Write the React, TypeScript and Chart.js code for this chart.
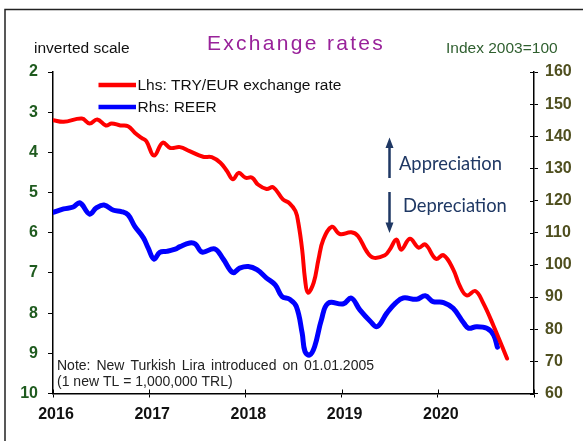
import React, { useEffect, useRef } from 'react';
import { Chart, registerables } from 'chart.js';

Chart.register(...registerables);

// ---- data (x = date in decimal years) ----
const yearTicks = [2016, 2017, 2018, 2019, 2020, 2021];
const seriesLabels = ['Lhs: TRY/EUR exchange rate', 'Rhs: REER'];
const titleText = 'Exchange rates';
const leftNote = 'inverted scale';
const rightNote = 'Index 2003=100';
const noteLines = ['Note: New Turkish Lira introduced on 01.01.2005', '(1 new TL = 1,000,000 TRL)'];
const annotationLabels = ['Appreciation', 'Depreciation'];

const tryEurDates = [
  2016.0, 2016.11, 2016.3, 2016.38, 2016.46, 2016.55, 2016.61, 2016.7, 2016.78, 2016.85,
  2016.92, 2016.97, 2017.05, 2017.14, 2017.22, 2017.32, 2017.42, 2017.56, 2017.65, 2017.74,
  2017.81, 2017.87, 2017.93, 2018.0, 2018.07, 2018.13, 2018.22, 2018.29, 2018.39, 2018.46,
  2018.52, 2018.55, 2018.59, 2018.62, 2018.65, 2018.71, 2018.76, 2018.81, 2018.9, 2018.98,
  2019.1, 2019.17, 2019.26, 2019.33, 2019.45, 2019.5, 2019.57, 2019.62, 2019.71, 2019.8,
  2019.87, 2019.98, 2020.06, 2020.16, 2020.23, 2020.3, 2020.39, 2020.47, 2020.58, 2020.72,
];
const tryEurValues = [
  3.2, 3.24, 3.16, 3.28, 3.18, 3.33, 3.28, 3.33, 3.35, 3.51,
  3.64, 3.72, 4.08, 3.76, 3.89, 3.87, 3.97, 4.11, 4.12, 4.26,
  4.47, 4.67, 4.51, 4.63, 4.63, 4.8, 4.91, 4.87, 5.17, 5.27,
  5.46, 5.75, 6.42, 7.16, 7.49, 7.24, 6.66, 6.17, 5.85, 6.03,
  5.99, 6.08, 6.46, 6.62, 6.56, 6.42, 6.17, 6.42, 6.15, 6.37,
  6.29, 6.65, 6.56, 6.91, 7.33, 7.56, 7.45, 7.74, 8.32, 9.13,
];

const reerDates = [
  2016.0, 2016.11, 2016.21, 2016.28, 2016.38, 2016.45, 2016.53, 2016.63, 2016.71, 2016.78,
  2016.85, 2016.94, 2016.99, 2017.05, 2017.11, 2017.18, 2017.27, 2017.32, 2017.42, 2017.48,
  2017.55, 2017.68, 2017.77, 2017.87, 2017.94, 2018.03, 2018.12, 2018.22, 2018.31, 2018.38,
  2018.46, 2018.53, 2018.59, 2018.62, 2018.67, 2018.72, 2018.79, 2018.86, 2019.02, 2019.1,
  2019.19, 2019.3, 2019.37, 2019.47, 2019.56, 2019.64, 2019.78, 2019.87, 2019.95, 2020.06,
  2020.16, 2020.27, 2020.32, 2020.4, 2020.51, 2020.58, 2020.62,
];
const reerValues = [
  116.3, 117.4, 118.0, 119.3, 115.8, 117.7, 118.6, 117.0, 116.6, 115.6,
  112.0, 108.4, 105.2, 101.8, 103.9, 104.2, 104.9, 105.7, 106.8, 106.5,
  104.0, 105.0, 101.8, 97.6, 99.0, 99.5, 98.5, 95.9, 93.8, 90.2,
  89.3, 87.0, 78.8, 73.0, 72.0, 74.6, 82.9, 88.1, 87.9, 89.7,
  86.0, 82.4, 80.8, 85.0, 88.1, 89.7, 89.3, 90.4, 88.6, 88.3,
  86.5, 81.9, 80.3, 80.8, 80.3, 78.2, 74.4,
];

const RED = '#ff0000';
const BLUE = '#0000ff';
const FONT = "'Liberation Sans', Arial, sans-serif";
const NAVY = '#1f3864';

export default function App() {
  const ref = useRef<HTMLCanvasElement>(null);

  useEffect(() => {
    const canvas = ref.current!;

    const overlay = {
      id: 'overlay',
      afterDraw(chart: any) {
        const c: CanvasRenderingContext2D = chart.ctx;
        const area = chart.chartArea;
        const xs = chart.scales.x;
        const yr = chart.scales.y1;
        c.save();

        // inner halves of crossing ticks (right axis and x axis)
        c.strokeStyle = '#000';
        c.lineWidth = 1;
        c.beginPath();
        yr.ticks.forEach((t: any) => {
          const py = Math.round(yr.getPixelForValue(t.value)) + 0.5;
          c.moveTo(area.right - 4, py);
          c.lineTo(area.right, py);
        });
        xs.ticks.forEach((t: any) => {
          const px = Math.round(xs.getPixelForValue(t.value)) + 0.5;
          c.moveTo(px, area.bottom - 4);
          c.lineTo(px, area.bottom);
        });
        c.stroke();

        // outer frame
        c.strokeStyle = '#222';
        c.lineWidth = 1.5;
        c.strokeRect(5, 9.5, 900, 900);

        // title
        c.fillStyle = '#99229a';
        c.font = `21px ${FONT}`;
        (c as any).letterSpacing = '2.3px';
        c.textAlign = 'center';
        c.textBaseline = 'alphabetic';
        c.fillText(titleText, 296, 50);
        (c as any).letterSpacing = '0px';

        // side notes
        c.textAlign = 'left';
        c.fillStyle = '#111';
        c.font = `15.5px ${FONT}`;
        c.fillText(leftNote, 34, 52.5);
        c.fillStyle = '#2f5f2f';
        c.font = `15.5px ${FONT}`;
        c.fillText(rightNote, 446, 53);

        // legend
        const legendColors = [RED, BLUE];
        const legendY = [85, 107];
        legendColors.forEach((col, i) => {
          c.strokeStyle = col;
          c.lineWidth = 4.5;
          c.lineCap = 'butt';
          c.beginPath();
          c.moveTo(98.5, legendY[i]);
          c.lineTo(136, legendY[i]);
          c.stroke();
          c.fillStyle = '#111';
          c.font = `15.5px ${FONT}`;
          c.textBaseline = 'middle';
          c.fillText(seriesLabels[i], 137.5, legendY[i] + 0.5);
        });

        // appreciation / depreciation arrows
        c.strokeStyle = NAVY;
        c.fillStyle = NAVY;
        c.lineWidth = 2.5;
        const ax = 389.5;
        c.beginPath();
        c.moveTo(ax, 178);
        c.lineTo(ax, 146);
        c.moveTo(ax, 192);
        c.lineTo(ax, 224);
        c.stroke();
        c.beginPath();
        c.moveTo(ax, 137.5);
        c.lineTo(ax - 4, 148);
        c.lineTo(ax + 4, 148);
        c.closePath();
        c.moveTo(ax, 233);
        c.lineTo(ax - 4, 222.5);
        c.lineTo(ax + 4, 222.5);
        c.closePath();
        c.fill();

        c.font = `17px Lato, 'Noto Sans', sans-serif`;
        const w0 = c.measureText(annotationLabels[0]).width;
        const fs = (17 * 103) / w0;
        c.font = `${fs}px Lato, 'Noto Sans', sans-serif`;
        c.textBaseline = 'alphabetic';
        c.fillText(annotationLabels[0], 399, 169.5);
        c.fillText(annotationLabels[1], 403, 211.5);

        // note
        c.fillStyle = '#222';
        c.font = `14px ${FONT}`;
        const targets = [317, 186];
        const baselines = [370, 386];
        noteLines.forEach((line, i) => {
          const w = c.measureText(line).width;
          const gaps = line.split(' ').length - 1;
          (c as any).wordSpacing = `${Math.max(0, (targets[i] - w) / gaps)}px`;
          c.fillText(line, 57, baselines[i]);
        });
        (c as any).wordSpacing = '0px';

        c.restore();
      },
    };

    const chart = new Chart(canvas, {
      type: 'line',
      data: {
        datasets: [
          {
            label: seriesLabels[0],
            data: tryEurDates.map((d, i) => ({ x: d, y: tryEurValues[i] })),
            borderColor: RED,
            backgroundColor: RED,
            borderWidth: 4,
            pointRadius: 0,
            tension: 0.4,
            yAxisID: 'y',
            borderCapStyle: 'round',
            borderJoinStyle: 'round',
          },
          {
            label: seriesLabels[1],
            data: reerDates.map((d, i) => ({ x: d, y: reerValues[i] })),
            borderColor: BLUE,
            backgroundColor: BLUE,
            borderWidth: 5,
            pointRadius: 0,
            tension: 0.4,
            yAxisID: 'y1',
            borderCapStyle: 'round',
            borderJoinStyle: 'round',
          },
        ],
      },
      options: {
        responsive: false,
        animation: false,
        events: [],
        layout: { padding: { top: 72, left: 0, right: 0, bottom: 0 } },
        plugins: { legend: { display: false }, tooltip: { enabled: false }, title: { display: false } },
        scales: {
          x: {
            type: 'linear',
            min: yearTicks[0],
            max: yearTicks[yearTicks.length - 1],
            afterBuildTicks: (s: any) => {
              s.ticks = yearTicks.map((v) => ({ value: v }));
            },
            afterFit: (s: any) => {
              s.height = 47.5;
            },
            ticks: {
              autoSkip: false,
              maxRotation: 0,
              labelOffset: 3,
              padding: 7,
              color: '#111',
              font: { family: FONT, size: 16, weight: 'bold' },
              callback: (v: any) => (v >= 2021 ? '' : String(v)),
            },
            grid: { drawOnChartArea: false, tickLength: 4, color: '#000', lineWidth: 1 },
            border: { color: '#000', width: 1.5 },
          },
          y: {
            position: 'left',
            reverse: true,
            min: 2,
            max: 10,
            afterBuildTicks: (s: any) => {
              s.ticks = [2, 3, 4, 5, 6, 7, 8, 9, 10].map((v) => ({ value: v }));
            },
            afterFit: (s: any) => {
              s.width = 53;
            },
            ticks: {
              padding: 10,
              color: '#1f5b1f',
              font: { family: FONT, size: 16, weight: 'bold' },
            },
            grid: { drawOnChartArea: false, tickLength: 5, color: '#000', lineWidth: 1 },
            border: { color: '#000', width: 1.5 },
          },
          y1: {
            position: 'right',
            min: 60,
            max: 160,
            afterBuildTicks: (s: any) => {
              s.ticks = [60, 70, 80, 90, 100, 110, 120, 130, 140, 150, 160].map((v) => ({ value: v }));
            },
            afterFit: (s: any) => {
              s.width = 49;
            },
            ticks: {
              padding: 7,
              color: '#4f4f1f',
              font: { family: FONT, size: 16, weight: 'bold' },
            },
            grid: { drawOnChartArea: false, tickLength: 4, color: '#000', lineWidth: 1 },
            border: { color: '#000', width: 1.5 },
          },
        },
      },
      plugins: [overlay],
    } as any);

    return () => chart.destroy();
  }, []);

  return (
    <div style={{ position: 'absolute', left: 0, top: 0, width: 583, height: 441, background: '#fff' }}>
      <canvas ref={ref} width={583} height={441} style={{ display: 'block', width: 583, height: 441 }} />
    </div>
  );
}
